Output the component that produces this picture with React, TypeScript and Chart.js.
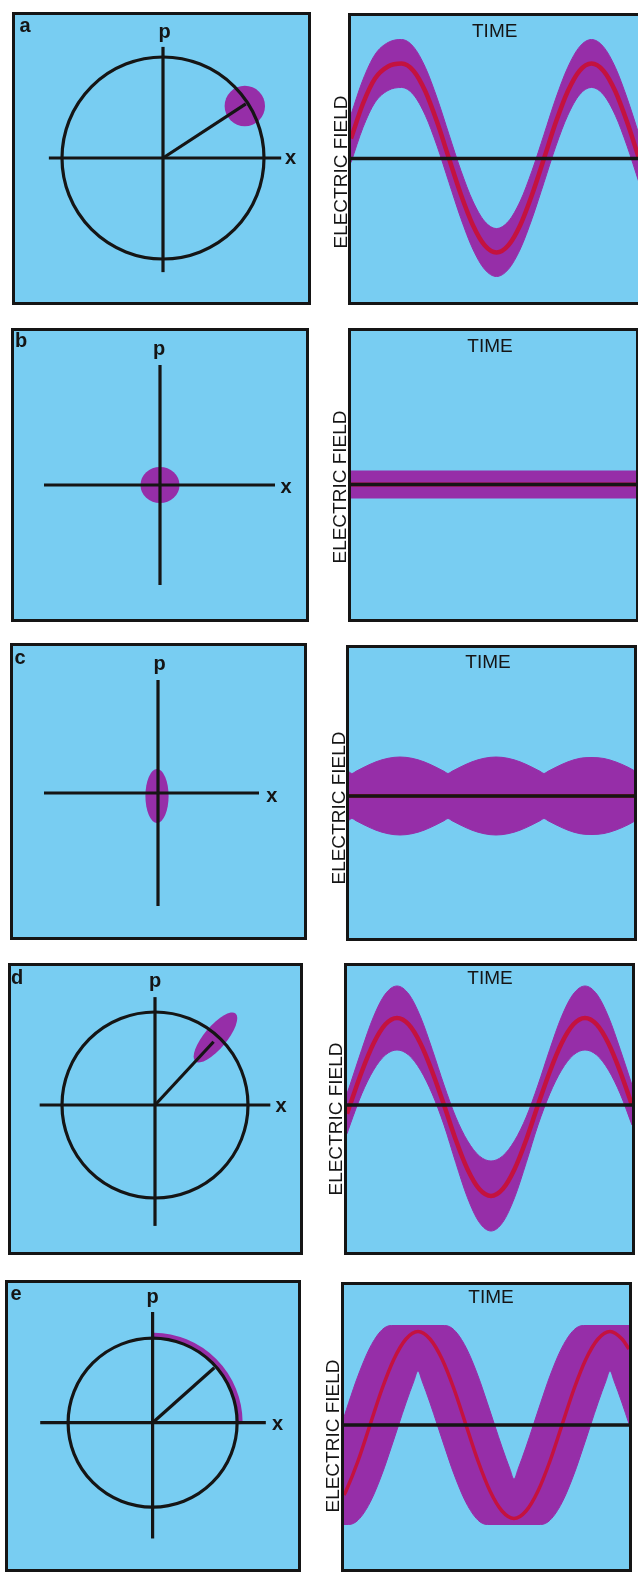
import React, { useEffect, useRef } from "react";
import { Chart, registerables } from "chart.js";

Chart.register(...registerables);

// ----------------------------------------------------------------------------
// DATA
// Phase-space panels: units where the mean-field amplitude (orbit radius) = 1
// ----------------------------------------------------------------------------
const A_X_AXIS = [-1.13, 1.17];
const A_P_AXIS = [-1.13, 1.1];
const A_ORBIT = 1.0;
const A_PHASOR = [0.82, 0.535];
const A_BLOB_CENTER = [0.81, 0.515];
const A_BLOB_SIZE = [0.2, 0.2];

const B_X_AXIS = [-1.16, 1.15];
const B_P_AXIS = [-1.0, 1.2];
const B_BLOB_CENTER = [0, 0];
const B_BLOB_SIZE = [0.195, 0.18];

const C_X_AXIS = [-1.14, 1.01];
const C_P_AXIS = [-1.13, 1.13];
const C_BLOB_CENTER = [-0.01, -0.03];
const C_BLOB_SIZE = [0.116, 0.27];

const D_X_AXIS = [-1.24, 1.24];
const D_P_AXIS = [-1.3, 1.16];
const D_ORBIT = 1.0;
const D_PHASOR = [0.63, 0.68];
const D_BLOB_CENTER = [0.65, 0.726];
const D_BLOB_SIZE = [0.336, 0.12];
const D_BLOB_ANGLE = 50;

const E_X_AXIS = [-1.33, 1.34];
const E_P_AXIS = [-1.37, 1.31];
const E_ORBIT = 1.0;
const E_PHASOR = [0.73, 0.65];
const E_ARC_ANGLES = [1, 89];
const E_ARC_RADIUS = 1.03;
const E_ARC_THICKNESS = 0.07;

// Electric field vs time panels (time and field in arbitrary units)
const A_TIME = [0, 12, 24, 37, 50.5, 62.4, 74.3, 86.1, 98, 109.9, 121.8, 133.6, 145.5, 157.4, 169.3, 181.1, 193, 204.9, 216.8, 228.6, 240.5, 252.4, 264.3, 276.1, 288];
const A_FIELD = [20, 55, 80, 92, 95, 87.8, 67.2, 36.4, 0, -36, -66.5, -86.8, -94, -86.8, -66.5, -36, 0, 36.4, 67.2, 87.8, 95, 87.8, 67.2, 36.4, 0];
const A_HALF_WIDTH = 24;

const B_TIME = [0, 291];
const B_FIELD = [0, 0];
const B_HALF_WIDTH = 13.5;

const C_CENTER_TIME = [0, 285];
const C_CENTER = [0, 0];
const C_TIME = [0, 3, 7, 15, 27, 39, 51, 63, 75, 87, 95, 99, 103, 111, 123, 135, 147, 159, 171, 183, 191, 195, 199, 207, 219, 231, 243, 255, 267, 279, 285];
const C_HALF = [24.1, 22.5, 24.7, 28.8, 34.2, 37.7, 39, 37.7, 34.2, 28.8, 24.7, 22.5, 24.7, 28.8, 34.2, 37.7, 39, 37.7, 34.2, 28.8, 24.7, 22.5, 24.7, 28.8, 34.2, 37.7, 38.5, 37.5, 34, 28.8, 25.5];

const D_TIME = [0, 3, 14.75, 26.5, 38.25, 50, 61.75, 73.5, 85.25, 97, 108.75, 120.5, 132.25, 144, 155.75, 167.5, 179.25, 191, 202.75, 214.5, 226.25, 238, 249.75, 261.5, 273.25, 285];
const D_FIELD = [-8.7, 0, 33.3, 61.5, 80.4, 87, 80.4, 61.5, 33.3, 0, -34.8, -64.3, -84.1, -91, -84.1, -64.3, -34.8, 0, 33.3, 61.5, 80.4, 87, 80.4, 61.5, 33.3, 0];
const D_HALF = [20.1, 20, 22.2, 26.7, 30.5, 32, 30.5, 26.7, 22.2, 20, 22.8, 28.5, 33.2, 35, 33.2, 28.5, 22.8, 20, 22.2, 26.7, 30.5, 32, 30.5, 26.7, 22.2, 20];

const E_TIME = [0, 2, 14, 26, 38, 50, 62, 74, 86, 98, 110, 122, 134, 146, 158, 170, 182, 194, 206, 218, 230, 242, 254, 266, 278, 285];
const E_FIELD = [-70, -66, -36, 0, 36, 66, 86, 93.5, 86, 66, 36, 0, -36, -66, -86, -93.5, -86, -66, -36, 0, 36, 66, 86, 93.5, 86, 76];
const E_EDGE_TIME = [0, 4.7, 14, 26, 38, 47.3, 62, 70, 74, 78, 86, 100.7, 110, 122, 134, 143.3, 158, 166, 170, 174, 182, 196.7, 206, 218, 230, 239.3, 254, 262, 266, 270, 278, 285];
const E_UPPER = [8, 22.4, 49.2, 77.6, 95.2, 99.5, 99.5, 99.5, 99.5, 99.5, 99.5, 99.5, 95.2, 77.6, 49.2, 22.2, -22.1, -44.2, -54.1, -44.2, -22.1, 22.2, 49.2, 77.6, 95.2, 99.5, 99.5, 99.5, 99.5, 99.5, 99.5, 99.5];
const E_LOWER = [-99.5, -99.5, -95.2, -77.6, -49.2, -22.2, 22.1, 44.2, 54.1, 44.2, 22.1, -22.2, -49.2, -77.6, -95.2, -99.5, -99.5, -99.5, -99.5, -99.5, -99.5, -99.5, -95.2, -77.6, -49.2, -22.2, 22.1, 44.2, 54.1, 44.2, 22.1, 1.2];

// Text
const PANEL_TAGS = ["a", "b", "c", "d", "e"];
const P_LABEL = "p";
const X_LABEL = "x";
const TIME_LABEL = "TIME";
const FIELD_LABEL = "ELECTRIC FIELD";

// ----------------------------------------------------------------------------
// STYLE / LAYOUT
// ----------------------------------------------------------------------------
const INK = "#151515";
const BLUE = "#78cdf2";
const PURPLE = "#962ea8";
const RED = "#c4123f";
const FONT = "'Liberation Sans', Arial, Helvetica, sans-serif";
const BORDER = 3;

type PhaseGeom = { x: number; y: number; w: number; h: number; cx: number; cy: number; unit: number };
type WaveGeom = { x: number; y: number; w: number; h: number; zero: number };

const LAYOUT: { phase: PhaseGeom; wave: WaveGeom; tag: number[]; p: number[]; xl: number[]; time: number[]; field: number[]; redWidth: number }[] = [
  {
    phase: { x: 12, y: 12, w: 299, h: 293, cx: 163, cy: 158, unit: 101 },
    wave: { x: 348, y: 13, w: 293, h: 292, zero: 158.5 },
    tag: [25, 27.2], p: [164.5, 33], xl: [290.5, 159], time: [494.7, 30], field: [340, 171.5], redWidth: 4.5,
  },
  {
    phase: { x: 11, y: 328, w: 298, h: 294, cx: 160, cy: 485, unit: 100 },
    wave: { x: 348, y: 328, w: 291, h: 294, zero: 484.5 },
    tag: [21, 342], p: [159, 350], xl: [286, 488], time: [490, 345], field: [339, 487], redWidth: 4,
  },
  {
    phase: { x: 10, y: 643, w: 297, h: 297, cx: 158, cy: 793, unit: 100 },
    wave: { x: 346, y: 645, w: 291, h: 296, zero: 796 },
    tag: [20, 659], p: [159.5, 665], xl: [271.8, 796.7], time: [488, 661], field: [338, 807.5], redWidth: 4,
  },
  {
    phase: { x: 8, y: 963, w: 295, h: 292, cx: 155, cy: 1105, unit: 93 },
    wave: { x: 344, y: 963, w: 291, h: 292, zero: 1105 },
    tag: [17, 979], p: [155, 982], xl: [281, 1107], time: [490, 977], field: [335, 1119], redWidth: 4.5,
  },
  {
    phase: { x: 5, y: 1280, w: 296, h: 292, cx: 152.6, cy: 1422.7, unit: 84.5 },
    wave: { x: 341, y: 1282, w: 291, h: 290, zero: 1425 },
    tag: [16, 1295], p: [152.6, 1298], xl: [277.5, 1424.3], time: [491, 1296.7], field: [331.7, 1435.5], redWidth: 3.5,
  },
];

// ----------------------------------------------------------------------------
// CHART BUILDERS
// ----------------------------------------------------------------------------
type Shape =
  | { kind: "ellipse"; cx: number; cy: number; rx: number; ry: number; rot: number; fill?: string; stroke?: string; lineWidth?: number }
  | { kind: "arc"; cx: number; cy: number; r: number; from: number; to: number; thickness: number; color: string };

function makeShapesPlugin(shapes: Shape[]) {
  return {
    id: "phaseShapes",
    beforeDatasetsDraw(chart: any) {
      const { ctx } = chart;
      const xs = chart.scales.x;
      const ys = chart.scales.y;
      ctx.save();
      for (const s of shapes) {
        const px = xs.getPixelForValue(s.cx);
        const py = ys.getPixelForValue(s.cy);
        if (s.kind === "ellipse") {
          const rx = Math.abs(xs.getPixelForValue(s.cx + s.rx) - px);
          const ry = Math.abs(ys.getPixelForValue(s.cy + s.ry) - py);
          ctx.beginPath();
          ctx.ellipse(px, py, rx, ry, (-s.rot * Math.PI) / 180, 0, Math.PI * 2);
          if (s.fill) {
            ctx.fillStyle = s.fill;
            ctx.fill();
          }
          if (s.stroke) {
            ctx.strokeStyle = s.stroke;
            ctx.lineWidth = s.lineWidth || 3;
            ctx.stroke();
          }
        } else {
          const r = Math.abs(xs.getPixelForValue(s.cx + s.r) - px);
          const t = Math.abs(xs.getPixelForValue(s.cx + s.thickness) - px);
          ctx.beginPath();
          ctx.arc(px, py, r, (-s.to * Math.PI) / 180, (-s.from * Math.PI) / 180);
          ctx.strokeStyle = s.color;
          ctx.lineWidth = t;
          ctx.lineCap = "round";
          ctx.stroke();
        }
      }
      ctx.restore();
    },
  };
}

type PhaseSpec = {
  xAxis: number[];
  pAxis: number[];
  orbit?: number;
  phasor?: number[];
  blobCenter?: number[];
  blobSize?: number[];
  blobAngle?: number;
  arc?: { angles: number[]; radius: number; thickness: number };
};

function phaseConfig(g: PhaseGeom, spec: PhaseSpec): any {
  const ix = g.x + BORDER;
  const iy = g.y + BORDER;
  const iw = g.w - 2 * BORDER;
  const ih = g.h - 2 * BORDER;
  const xMin = (ix - g.cx) / g.unit;
  const xMax = (ix + iw - g.cx) / g.unit;
  const yMax = (g.cy - iy) / g.unit;
  const yMin = (g.cy - (iy + ih)) / g.unit;

  const seg = (pts: { x: number; y: number }[]) => ({
    data: pts,
    showLine: true,
    borderColor: INK,
    borderWidth: 3.2,
    pointRadius: 0,
    borderCapStyle: "butt",
    fill: false,
  });
  const datasets: any[] = [
    seg([{ x: spec.xAxis[0], y: 0 }, { x: spec.xAxis[1], y: 0 }]),
    seg([{ x: 0, y: spec.pAxis[0] }, { x: 0, y: spec.pAxis[1] }]),
  ];
  if (spec.phasor) datasets.push(seg([{ x: 0, y: 0 }, { x: spec.phasor[0], y: spec.phasor[1] }]));

  const shapes: Shape[] = [];
  if (spec.blobCenter && spec.blobSize) {
    shapes.push({
      kind: "ellipse",
      cx: spec.blobCenter[0],
      cy: spec.blobCenter[1],
      rx: spec.blobSize[0],
      ry: spec.blobSize[1],
      rot: spec.blobAngle || 0,
      fill: PURPLE,
    });
  }
  if (spec.arc) {
    shapes.push({
      kind: "arc",
      cx: 0,
      cy: 0,
      r: spec.arc.radius,
      from: spec.arc.angles[0],
      to: spec.arc.angles[1],
      thickness: spec.arc.thickness,
      color: PURPLE,
    });
  }
  if (spec.orbit) {
    shapes.push({ kind: "ellipse", cx: 0, cy: 0, rx: spec.orbit, ry: spec.orbit, rot: 0, stroke: INK, lineWidth: 3.2 });
  }

  return {
    type: "scatter",
    data: { datasets },
    options: {
      animation: false,
      responsive: false,
      maintainAspectRatio: false,
      events: [],
      layout: { padding: 0 },
      plugins: { legend: { display: false }, tooltip: { enabled: false }, title: { display: false } },
      scales: {
        x: { type: "linear", min: xMin, max: xMax, display: false },
        y: { type: "linear", min: yMin, max: yMax, display: false },
      },
    },
    plugins: [makeShapesPlugin(shapes)],
  };
}

type WaveSpec = {
  centerTime: number[];
  center: number[];
  bandTime: number[];
  upper: number[];
  lower: number[];
  redWidth: number;
};

function waveConfig(g: WaveGeom, spec: WaveSpec): any {
  const iw = g.w - 2 * BORDER;
  const ih = g.h - 2 * BORDER;
  const yMax = g.zero - (g.y + BORDER);
  const yMin = yMax - ih;
  const pts = (ts: number[], vs: number[]) => ts.map((t, i) => ({ x: t, y: vs[i] }));
  return {
    type: "line",
    data: {
      datasets: [
        {
          data: [{ x: 0, y: 0 }, { x: iw, y: 0 }],
          borderColor: INK,
          borderWidth: 3.5,
          pointRadius: 0,
          fill: false,
        },
        {
          data: pts(spec.centerTime, spec.center),
          borderColor: RED,
          borderWidth: spec.redWidth,
          pointRadius: 0,
          cubicInterpolationMode: "monotone",
          fill: false,
        },
        {
          data: pts(spec.bandTime, spec.upper),
          borderColor: PURPLE,
          backgroundColor: PURPLE,
          borderWidth: 1,
          pointRadius: 0,
          cubicInterpolationMode: "monotone",
          fill: "+1",
        },
        {
          data: pts(spec.bandTime, spec.lower),
          borderColor: PURPLE,
          borderWidth: 1,
          pointRadius: 0,
          cubicInterpolationMode: "monotone",
          fill: false,
        },
      ],
    },
    options: {
      animation: false,
      responsive: false,
      maintainAspectRatio: false,
      events: [],
      layout: { padding: 0 },
      plugins: { legend: { display: false }, tooltip: { enabled: false }, title: { display: false } },
      scales: {
        x: { type: "linear", min: 0, max: iw, display: false },
        y: { type: "linear", min: yMin, max: yMax, display: false },
      },
    },
  };
}

// ----------------------------------------------------------------------------
// COMPONENTS
// ----------------------------------------------------------------------------
function ChartBox({ rect, config }: { rect: { x: number; y: number; w: number; h: number }; config: () => any }) {
  const ref = useRef<HTMLCanvasElement | null>(null);
  useEffect(() => {
    if (!ref.current) return;
    const chart = new Chart(ref.current, config());
    return () => chart.destroy();
  }, []);
  const iw = rect.w - 2 * BORDER;
  const ih = rect.h - 2 * BORDER;
  return (
    <div
      style={{
        position: "absolute",
        left: rect.x,
        top: rect.y,
        width: rect.w,
        height: rect.h,
        boxSizing: "border-box",
        border: `${BORDER}px solid ${INK}`,
        background: BLUE,
        overflow: "hidden",
      }}
    >
      <canvas ref={ref} width={iw} height={ih} style={{ display: "block", width: iw, height: ih }} />
    </div>
  );
}

function Txt({
  text,
  at,
  size = 19,
  bold = false,
  caps = false,
  rotate = false,
}: {
  text: string;
  at: number[];
  size?: number;
  bold?: boolean;
  caps?: boolean;
  rotate?: boolean;
}) {
  const base: React.CSSProperties = {
    position: "absolute",
    fontFamily: FONT,
    fontSize: size,
    lineHeight: `${size}px`,
    fontWeight: bold ? 700 : 400,
    color: INK,
    whiteSpace: "nowrap",
  };
  if (rotate) {
    return (
      <div style={{ ...base, left: at[0], top: at[1], transform: "translate(-50%, -50%) rotate(-90deg)" }}>{text}</div>
    );
  }
  const off = caps ? 0.4885 : 0.5865;
  return <div style={{ ...base, left: at[0], top: at[1] - off * size, transform: "translateX(-50%)" }}>{text}</div>;
}

const PHASE_SPECS: PhaseSpec[] = [
  { xAxis: A_X_AXIS, pAxis: A_P_AXIS, orbit: A_ORBIT, phasor: A_PHASOR, blobCenter: A_BLOB_CENTER, blobSize: A_BLOB_SIZE },
  { xAxis: B_X_AXIS, pAxis: B_P_AXIS, blobCenter: B_BLOB_CENTER, blobSize: B_BLOB_SIZE },
  { xAxis: C_X_AXIS, pAxis: C_P_AXIS, blobCenter: C_BLOB_CENTER, blobSize: C_BLOB_SIZE },
  { xAxis: D_X_AXIS, pAxis: D_P_AXIS, orbit: D_ORBIT, phasor: D_PHASOR, blobCenter: D_BLOB_CENTER, blobSize: D_BLOB_SIZE, blobAngle: D_BLOB_ANGLE },
  { xAxis: E_X_AXIS, pAxis: E_P_AXIS, orbit: E_ORBIT, phasor: E_PHASOR, arc: { angles: E_ARC_ANGLES, radius: E_ARC_RADIUS, thickness: E_ARC_THICKNESS } },
];

const WAVE_SPECS: Omit<WaveSpec, "redWidth">[] = [
  {
    centerTime: A_TIME,
    center: A_FIELD,
    bandTime: A_TIME,
    upper: A_FIELD.map((v) => v + A_HALF_WIDTH),
    lower: A_FIELD.map((v) => v - A_HALF_WIDTH),
  },
  {
    centerTime: B_TIME,
    center: B_FIELD,
    bandTime: B_TIME,
    upper: B_FIELD.map((v) => v + B_HALF_WIDTH),
    lower: B_FIELD.map((v) => v - B_HALF_WIDTH),
  },
  {
    centerTime: C_CENTER_TIME,
    center: C_CENTER,
    bandTime: C_TIME,
    upper: C_HALF.map((w) => w),
    lower: C_HALF.map((w) => -w),
  },
  {
    centerTime: D_TIME,
    center: D_FIELD,
    bandTime: D_TIME,
    upper: D_FIELD.map((v, i) => v + D_HALF[i]),
    lower: D_FIELD.map((v, i) => v - D_HALF[i]),
  },
  {
    centerTime: E_TIME,
    center: E_FIELD,
    bandTime: E_EDGE_TIME,
    upper: E_UPPER,
    lower: E_LOWER,
  },
];

export default function App() {
  return (
    <div
      style={{
        position: "absolute",
        left: 0,
        top: 0,
        width: 638,
        height: 1574,
        overflow: "hidden",
        background: "#ffffff",
      }}
    >
      {LAYOUT.map((row, i) => (
        <React.Fragment key={i}>
          <ChartBox rect={row.phase} config={() => phaseConfig(row.phase, PHASE_SPECS[i])} />
          <ChartBox rect={row.wave} config={() => waveConfig(row.wave, { ...WAVE_SPECS[i], redWidth: row.redWidth })} />
          <Txt text={PANEL_TAGS[i]} at={row.tag} size={20} bold />
          <Txt text={P_LABEL} at={row.p} size={20} bold />
          <Txt text={X_LABEL} at={row.xl} size={20} bold />
          <Txt text={TIME_LABEL} at={row.time} size={19} caps />
          <Txt text={FIELD_LABEL} at={row.field} size={19} caps rotate />
        </React.Fragment>
      ))}
    </div>
  );
}
